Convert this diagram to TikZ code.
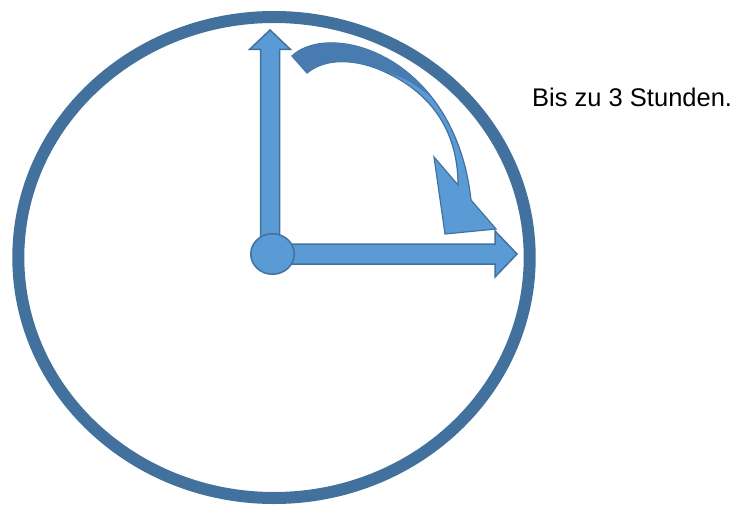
\documentclass[tikz,border=0pt]{standalone}
\usepackage{fontspec}
\setmainfont{Liberation Sans}
\usetikzlibrary{shapes.geometric}
\definecolor{ringblue}{RGB}{65,113,156}
\definecolor{handblue}{RGB}{91,155,213}
\definecolor{backblue}{RGB}{72,124,176}
\begin{document}
\begin{tikzpicture}[x=1pt, y=-1pt,
    hand/.style={fill=handblue, draw=ringblue, line width=1.5pt},
    hub/.style={ellipse, hand, minimum width=43.5pt, minimum height=40.5pt, inner sep=0pt}]
    \useasboundingbox (0,0) rectangle (741,513);
    % clock face
    \draw[ringblue, line width=12pt] (274,257.5) ellipse [x radius=255.7, y radius=240.5];
    % hands
    \draw[hand] (260.5,254) -- (260.5,49.5) -- (249.5,49.5) -- (270,30) -- (290.5,49.5) -- (279.5,49.5) -- (279.5,254) -- cycle;
    \draw[hand] (272,244) -- (495,244) -- (495,231) -- (517,254) -- (495,277) -- (495,264) -- (272,264) -- cycle;
    \node[hub] (hub) at (272.5,254) {};
    % bent arrow
    \draw[hand, line width=1.2pt] (292,56) .. controls (330,20) and (455,55) .. (471,200) -- (496,229) -- (445,234) -- (434,157) -- (458,185)
        .. controls (458,125) and (425,90) .. (385,72) .. controls (355,58) and (325,58) .. (307,73) -- cycle;
    \fill[backblue] (292,56) .. controls (318.6,30.8) and (387.8,40.4) .. (432.5,98.2)
        .. controls (415,84) and (402,76) .. (385,72) .. controls (355,58) and (325,58) .. (307,73) -- cycle;
    \node[anchor=base west, inner sep=0pt, font=\fontsize{25.5}{30}\selectfont] (note) at (532,106.5) {Bis zu 3 Stunden.};
\end{tikzpicture}
\end{document}
